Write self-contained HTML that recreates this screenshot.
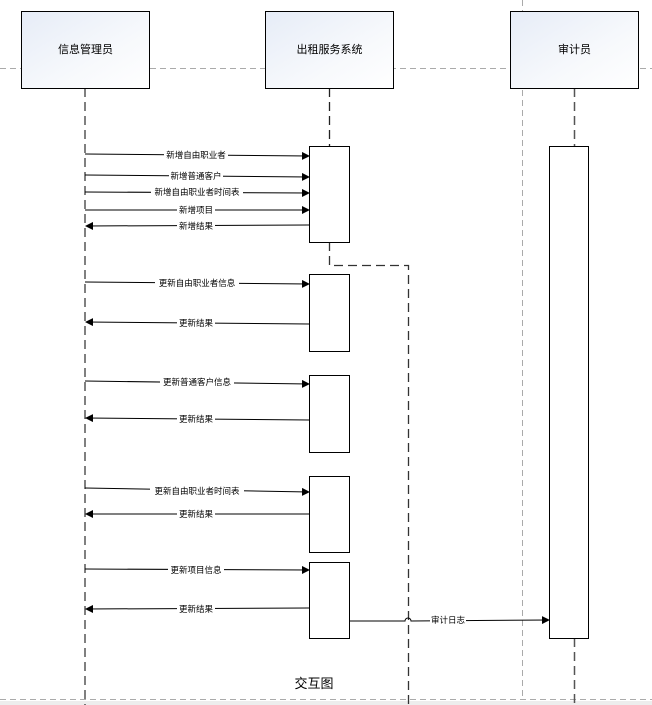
<!DOCTYPE html>
<html><head><meta charset="utf-8"><style>
html,body{margin:0;padding:0;background:#fff;}
svg{display:block;}
text{font-family:"Liberation Sans","Noto Sans CJK SC",sans-serif;}
</style></head><body>
<svg width="652" height="705" viewBox="0 0 652 705" xmlns="http://www.w3.org/2000/svg">
<defs>
<linearGradient id="g" x1="0" y1="0" x2="1" y2="1">
<stop offset="0" stop-color="#e6ecf7"/><stop offset="0.6" stop-color="#f7f9fc"/><stop offset="1" stop-color="#ffffff"/>
</linearGradient>
<marker id="a" markerWidth="8" markerHeight="8" refX="7" refY="4" orient="auto" markerUnits="userSpaceOnUse">
<path d="M0,0 L8,4 L0,8 Z" fill="#000"/></marker>
</defs>
<!-- gray frame lines -->
<line x1="0" y1="68.5" x2="652" y2="68.5" stroke="#aaa" stroke-dasharray="6,4"/>
<line x1="522.5" y1="0" x2="522.5" y2="700" stroke="#aaa" stroke-dasharray="6,4"/>
<line x1="0" y1="699.5" x2="652" y2="699.5" stroke="#aaa" stroke-dasharray="6,4"/>
<rect x="0" y="701" width="652" height="4" fill="#ededed"/>
<!-- lifelines -->
<line x1="85" y1="88" x2="85" y2="705" stroke="#000" stroke-dasharray="9,5"/>
<line x1="329.5" y1="88" x2="329.5" y2="146" stroke="#222" stroke-width="1.3" stroke-dasharray="9,5"/>
<polyline points="329.5,242 329.5,265.5 408.5,265.5 408.5,705" fill="none" stroke="#333" stroke-width="1.3" stroke-dasharray="9,5"/>
<line x1="574.5" y1="88" x2="574.5" y2="146" stroke="#555" stroke-width="1.5" stroke-dasharray="9,5"/>
<line x1="574.5" y1="638" x2="574.5" y2="705" stroke="#555" stroke-width="1.5" stroke-dasharray="9,5"/>
<!-- head boxes -->
<g stroke="#000" stroke-width="1" fill="url(#g)">
<rect x="21.5" y="11.5" width="128" height="77"/>
<rect x="265.5" y="11.5" width="128" height="77"/>
<rect x="510.5" y="11.5" width="128" height="77"/>
</g>
<g font-size="11" text-anchor="middle" fill="#000">
<text x="85.5" y="53">信息管理员</text>
<text x="329.5" y="53">出租服务系统</text>
<text x="574.5" y="53">审计员</text>
</g>
<!-- activations -->
<g stroke="#000" fill="#fff">
<rect x="309.5" y="146.5" width="40" height="96"/>
<rect x="309.5" y="274.5" width="40" height="77"/>
<rect x="309.5" y="375.5" width="40" height="77"/>
<rect x="309.5" y="476.5" width="40" height="76"/>
<rect x="309.5" y="562.5" width="40" height="76"/>
<rect x="549.5" y="146.5" width="39" height="492"/>
</g>
<!-- messages -->
<g stroke="#000" stroke-width="1" fill="none">
<line x1="85" y1="154" x2="309" y2="156" marker-end="url(#a)"/>
<line x1="85" y1="175" x2="309" y2="177" marker-end="url(#a)"/>
<line x1="85" y1="192" x2="309" y2="193" marker-end="url(#a)"/>
<line x1="85" y1="210" x2="309" y2="210" marker-end="url(#a)"/>
<line x1="309" y1="225" x2="86" y2="226" marker-end="url(#a)"/>
<line x1="85" y1="282" x2="309" y2="284" marker-end="url(#a)"/>
<line x1="309" y1="324" x2="86" y2="322" marker-end="url(#a)"/>
<line x1="85" y1="381" x2="309" y2="384" marker-end="url(#a)"/>
<line x1="309" y1="420" x2="86" y2="418" marker-end="url(#a)"/>
<line x1="85" y1="488" x2="309" y2="492" marker-end="url(#a)"/>
<line x1="309" y1="514" x2="86" y2="514" marker-end="url(#a)"/>
<line x1="85" y1="569" x2="309" y2="570" marker-end="url(#a)"/>
<line x1="309" y1="608" x2="86" y2="609" marker-end="url(#a)"/>
<path d="M349,621 L405,621 A3,3 0 0 1 411,621 L549,620" marker-end="url(#a)"/>
</g>
<g font-size="8.5" text-anchor="middle" fill="#000">
<g fill="#fff">
<rect x="164" y="150" width="64" height="10"/><rect x="169" y="171" width="54" height="10"/>
<rect x="151" y="187" width="92" height="10"/><rect x="177" y="205" width="38" height="10"/>
<rect x="177" y="221" width="38" height="10"/><rect x="155" y="278" width="84" height="10"/>
<rect x="177" y="318" width="38" height="10"/><rect x="160" y="377" width="74" height="10"/>
<rect x="177" y="414" width="38" height="10"/><rect x="150" y="486" width="94" height="10"/>
<rect x="177" y="509" width="38" height="10"/><rect x="168" y="565" width="56" height="10"/>
<rect x="177" y="604" width="38" height="10"/><rect x="430" y="615" width="36" height="10"/>
</g>
<text x="196" y="158">新增自由职业者</text>
<text x="196" y="179">新增普通客户</text>
<text x="197" y="195">新增自由职业者时间表</text>
<text x="196" y="213">新增项目</text>
<text x="196" y="229">新增结果</text>
<text x="197" y="286">更新自由职业者信息</text>
<text x="196" y="326">更新结果</text>
<text x="197" y="385">更新普通客户信息</text>
<text x="196" y="422">更新结果</text>
<text x="197" y="494">更新自由职业者时间表</text>
<text x="196" y="517">更新结果</text>
<text x="196" y="573">更新项目信息</text>
<text x="196" y="612">更新结果</text>
<text x="448" y="623">审计日志</text>
</g>
<text x="314" y="688" font-size="13" text-anchor="middle">交互图</text>
</svg>
</body></html>
